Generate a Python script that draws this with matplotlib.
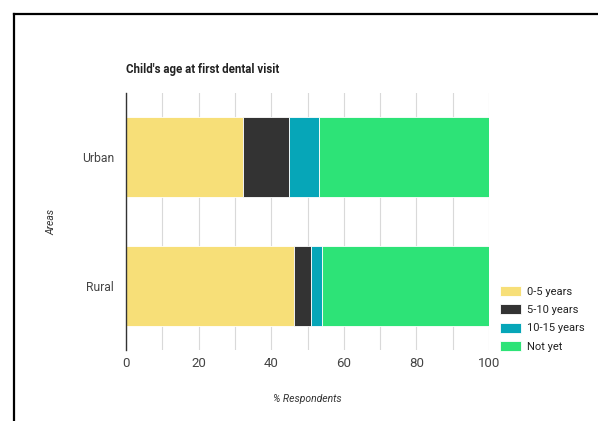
import matplotlib.pyplot as plt
from matplotlib.lines import Line2D

areas = ["Urban", "Rural"]
age_groups = ["0-5 years", "5-10 years", "10-15 years", "Not yet"]
share_0_5 = [32.3, 46.3]
share_5_10 = [12.7, 4.7]
share_10_15 = [8.1, 3.0]
share_not_yet = [46.9, 46.0]
x_ticks = [0, 20, 40, 60, 80, 100]

colors = ["#f7df78", "#333333", "#06a6b8", "#2de377"]

plt.rcParams['font.family'] = ['Roboto', 'DejaVu Sans']

fig = plt.figure(figsize=(5.98, 4.21), dpi=100)
ax = fig.add_axes([126 / 598, 1 - 350 / 421, 363 / 598, 257 / 421])

series = [share_0_5, share_5_10, share_10_15, share_not_yet]
left = [0, 0]
for values, label, color in zip(series, age_groups, colors):
    ax.barh(areas, values, left=left, height=0.62, color=color, label=label,
            edgecolor="white", linewidth=0.6, zorder=3)
    left = [a + b for a, b in zip(left, values)]

ax.set_xlim(0, 100)
ax.set_ylim(1.5, -0.5)
ax.set_xticks(x_ticks)
ax.set_xticks(range(0, 101, 10), minor=True)
ax.grid(axis='x', which='both', color="#d9d9d9", linewidth=0.8, zorder=0)
ax.tick_params(axis='x', which='both', length=0, labelsize=9.5, colors="#444444", pad=5)
ax.tick_params(axis='y', which='both', length=0, labelsize=8.7, colors="#444444", pad=8.5)

ax.spines[["right", "top", "bottom"]].set_visible(False)
ax.spines["left"].set_color("#333333")
ax.spines["left"].set_linewidth(1.0)
ax.spines["left"].set_zorder(4)

fig.text(126 / 598, 1 - 70 / 421, "Child's age at first dental visit", fontsize=8.3,
         fontweight="bold", color="#222222", va="center", ha="left")
fig.text(307 / 598, 1 - 399 / 421, "% Respondents", fontsize=7.5, style="italic",
         color="#333333", ha="center", va="center")
fig.text(51 / 598, 1 - 222 / 421, "Areas", fontsize=7.5, style="italic", rotation=90,
         color="#333333", ha="center", va="center")

ax.legend(loc="upper left", bbox_to_anchor=(500 / 598, 1 - 286 / 421),
          bbox_transform=fig.transFigure, frameon=False, fontsize=8,
          handlelength=1.9, handleheight=1.0, handletextpad=0.5,
          labelspacing=0.68, borderpad=0, borderaxespad=0, labelcolor="#222222")

# frame lines along top and left edge
fig.add_artist(Line2D([13.5 / 598, 1], [1 - 13.5 / 421, 1 - 13.5 / 421], color="black", linewidth=1.6))
fig.add_artist(Line2D([13.5 / 598, 13.5 / 598], [0, 1 - 13.5 / 421], color="black", linewidth=1.6))

plt.savefig("out.png", dpi=100)
